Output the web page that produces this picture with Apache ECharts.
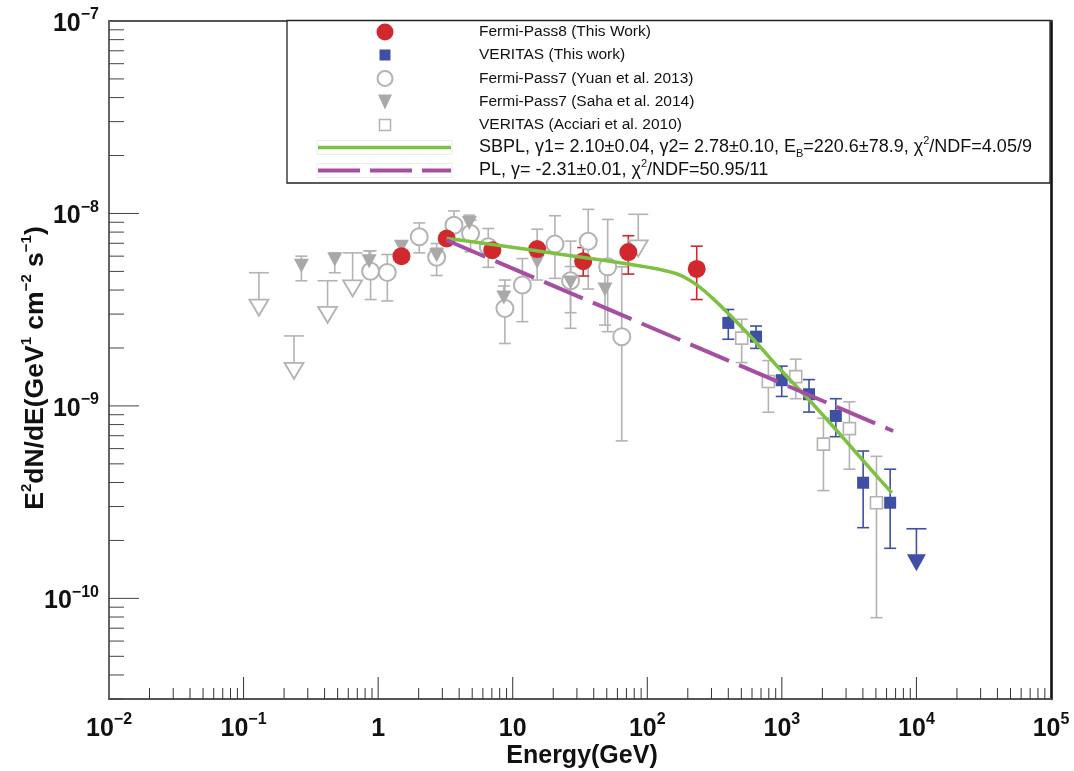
<!DOCTYPE html>
<html><head><meta charset="utf-8">
<script src="https://cdn.jsdelivr.net/npm/echarts@6/dist/echarts.min.js"></script>
<style>html,body{margin:0;padding:0;background:#fff}#chart{width:1074px;height:771px}</style>
</head><body><div id="chart"></div>
<script>
// ---------------- data ----------------
// Fermi-Pass8 (This Work): energy [GeV], E^2 dN/dE, lower, upper
const fermi8E  = [1.49, 3.23, 7.05, 15.2, 33.4, 72.3, 233];
const fermi8F  = [6.0e-9, 7.41e-9, 6.44e-9, 6.53e-9, 5.65e-9, 6.30e-9, 5.15e-9];
const fermi8Lo = [5.6e-9, 7.0e-9, 6.05e-9, 6.1e-9, 4.73e-9, 4.84e-9, 3.57e-9];
const fermi8Hi = [6.4e-9, 7.8e-9, 6.85e-9, 6.95e-9, 6.65e-9, 7.66e-9, 6.76e-9];

// VERITAS (This work)
const veritasE  = [400, 643, 998, 1592, 2518, 4018, 6380];
const veritasF  = [2.70e-9, 2.29e-9, 1.36e-9, 1.15e-9, 8.87e-10, 3.99e-10, 3.14e-10];
const veritasLo = [2.22e-9, 1.99e-9, 1.12e-9, 9.29e-10, 6.92e-10, 2.33e-10, 1.82e-10];
const veritasHi = [3.17e-9, 2.60e-9, 1.61e-9, 1.37e-9, 1.09e-9, 5.83e-10, 4.69e-10];
// VERITAS (This work) upper limit
const veritasUlE   = [10000];
const veritasUlF   = [1.53e-10];
const veritasUlTop = [2.30e-10];

// Fermi-Pass7 (Yuan et al. 2013)
const yuanE  = [0.879, 1.17, 2.02, 2.72, 3.66, 4.86, 6.58, 8.75, 11.8, 20.6, 26.9, 36.4, 50.8, 64.6];
const yuanF  = [5.01e-9, 4.94e-9, 7.57e-9, 5.92e-9, 8.69e-9, 7.87e-9, 6.71e-9, 3.21e-9, 4.25e-9, 6.93e-9, 4.47e-9, 7.17e-9, 5.28e-9, 2.29e-9];
const yuanLo = [3.57e-9, 3.51e-9, 6.24e-9, 4.76e-9, 7.4e-9, 6.32e-9, 5.25e-9, 2.11e-9, 2.74e-9, 4.60e-9, 2.53e-9, 4.05e-9, 2.43e-9, 6.58e-10];
const yuanHi = [6.39e-9, 6.12e-9, 8.93e-9, 6.98e-9, 1.03e-8, 9.23e-9, 8.35e-9, 4.51e-9, 5.83e-9, 9.73e-9, 7.18e-9, 1.05e-8, 9.31e-9, 5.28e-9];

// Fermi-Pass7 (Saha et al. 2014)
const sahaE  = [0.269, 0.476, 0.857, 1.49, 2.72, 4.76, 8.59, 15.2, 26.9, 48.5];
const sahaF  = [5.35e-9, 5.77e-9, 5.65e-9, 6.71e-9, 6.07e-9, 8.93e-9, 3.66e-9, 5.61e-9, 4.38e-9, 4.03e-9];
const sahaLo = [4.47e-9, 4.92e-9, 5.0e-9, 6.2e-9, 5.6e-9, 8.0e-9, 3.0e-9, 4.51e-9, 3.05e-9, 2.63e-9];
const sahaHi = [6.0e-9, 6.24e-9, 6.39e-9, 7.2e-9, 6.6e-9, 9.8e-9, 4.2e-9, 8.28e-9, 5.3e-9, 5.0e-9];

// Fermi-Pass7 upper limits (open triangles)
const ulE   = [0.130, 0.237, 0.421, 0.646, 85.7];
const ulF   = [3.24e-9, 1.52e-9, 2.97e-9, 4.08e-9, 6.58e-9];
const ulTop = [4.92e-9, 2.31e-9, 4.47e-9, 6.24e-9, 9.9e-9];

// VERITAS (Acciari et al. 2010)
const acciariE  = [503, 794, 1268, 2037, 3177, 5047];
const acciariF  = [2.25e-9, 1.34e-9, 1.42e-9, 6.33e-10, 7.62e-10, 3.14e-10];
const acciariLo = [1.68e-9, 9.27e-10, 1.09e-9, 3.63e-10, 4.69e-10, 7.94e-11];
const acciariHi = [2.82e-9, 1.72e-9, 1.75e-9, 8.63e-10, 1.05e-9, 5.47e-10];

// SBPL fit curve
const sbplE = [3.23, 5.70, 13.4, 31.6, 74.3, 124.3, 175.1, 234.2, 307.9, 412.0, 551.1, 688.5, 969.6, 1621, 2573, 4227, 6565];
const sbplF = [7.41e-9, 7.05e-9, 6.47e-9, 5.94e-9, 5.44e-9, 5.11e-9, 4.78e-9, 4.24e-9, 3.61e-9, 2.96e-9, 2.40e-9, 2.03e-9, 1.55e-9, 1.06e-9, 7.41e-10, 4.99e-10, 3.53e-10];
// PL fit line
const plE = [3.23, 6714];
const plF = [7.26e-9, 7.41e-10];

// axis ranges
const X_MIN = 0.01, X_MAX = 1e5, Y_MIN = 3e-11, Y_MAX = 1e-7;

// legend labels
const legendLabels = [
  'Fermi-Pass8 (This Work)',
  'VERITAS (This work)',
  'Fermi-Pass7 (Yuan et al. 2013)',
  'Fermi-Pass7 (Saha et al. 2014)',
  'VERITAS (Acciari et al. 2010)',
  '{w|SBPL, \u03b31= 2.10\u00b10.04, \u03b32= 2.78\u00b10.10, E}{sub|B}{w|=220.6\u00b178.9, \u03c7}{sup|2}{w|/NDF=4.05/9}',
  '{w|PL, \u03b3= -2.31\u00b10.01, \u03c7}{sup|2}{w|/NDF=50.95/11}'
];

// ---------------- styles ----------------
const RED = '#d1282e', BLUE = '#3e4fa5', GRAY = '#b3b3b3', GRAYF = '#a9a9a9';
const GREEN = '#7dc143', PURPLE = '#a54fa3';
const FONT = '"Liberation Sans", Arial, sans-serif';

function zip(a, b, c) { return a.map((v, i) => c ? [v, b[i], c[i]] : [v, b[i]]); }

// tick marks (minor 2..9, major at decades)
const tickData = [];
for (let k = -2; k < 5; k++) {
  for (let m = 1; m <= 9; m++) {
    if (m === 1 && k === -2) continue;
    tickData.push([m * Math.pow(10, k), Y_MIN, 0, m === 1 ? 22 : 11]);
  }
}
for (let k = -11; k < -7; k++) {
  for (let m = 1; m <= 9; m++) {
    const v = m * Math.pow(10, k);
    if (v < Y_MIN * 0.999) continue;
    tickData.push([X_MIN, v, 1, m === 1 ? 30 : 15]);
  }
}

function tickItem(params, api) {
  const which = api.value(2), len = api.value(3);
  if (which === 0) {
    const p = api.coord([api.value(0), Y_MIN]);
    return { type: 'line', shape: { x1: p[0], y1: p[1], x2: p[0], y2: p[1] - len }, style: { stroke: '#333', lineWidth: 1 } };
  }
  const p = api.coord([X_MIN, api.value(1)]);
  return { type: 'line', shape: { x1: p[0], y1: p[1], x2: p[0] + len, y2: p[1] }, style: { stroke: '#444', lineWidth: 1 } };
}

function errBar(color, cap, lw) {
  return function (params, api) {
    const x = api.value(0);
    const a = api.coord([x, api.value(1)]), b = api.coord([x, api.value(2)]);
    const st = { stroke: color, lineWidth: lw };
    return { type: 'group', children: [
      { type: 'line', shape: { x1: a[0], y1: a[1], x2: b[0], y2: b[1] }, style: st },
      { type: 'line', shape: { x1: a[0] - cap, y1: a[1], x2: a[0] + cap, y2: a[1] }, style: st },
      { type: 'line', shape: { x1: b[0] - cap, y1: b[1], x2: b[0] + cap, y2: b[1] }, style: st }
    ]};
  };
}
function ulBar(color, cap, lw, off) {
  return function (params, api) {
    const x = api.value(0);
    const a = api.coord([x, api.value(1)]), b = api.coord([x, api.value(2)]);
    const st = { stroke: color, lineWidth: lw };
    return { type: 'group', children: [
      { type: 'line', shape: { x1: a[0], y1: a[1] - off, x2: b[0], y2: b[1] }, style: st },
      { type: 'line', shape: { x1: b[0] - cap, y1: b[1], x2: b[0] + cap, y2: b[1] }, style: st }
    ]};
  };
}

function powLabel(v) {
  const lg = Math.log10(v), e = Math.round(lg);
  if (Math.abs(lg - e) > 1e-6) return '';
  if (e === 0) return '{b|1}';
  if (e === 1) return '{b|10}';
  return '{b|10}{s|' + (e < 0 ? '\u2212' + (-e) : e) + '}';
}
const labelRich = {
  b: { fontSize: 25, fontWeight: 'bold', fontFamily: FONT, color: '#111', lineHeight: 34, verticalAlign: 'middle' },
  s: { fontSize: 16, fontWeight: 'bold', fontFamily: FONT, color: '#111', lineHeight: 16, verticalAlign: 'top' }
};

const chart = echarts.init(document.getElementById('chart'), null, { renderer: 'canvas' });

// ---------------- legend (graphic) ----------------
const rows = [32, 55, 78.5, 101.5, 125, 147.5, 170.5];
const SX = 385, TX = 479;
const legendG = [
  { type: 'rect', shape: { x: 287, y: 20.5, width: 763, height: 162.5 }, style: { fill: '#fff', stroke: '#222', lineWidth: 1.3 }, z: 10 },
  { type: 'circle', shape: { cx: SX, cy: rows[0], r: 8.5 }, style: { fill: RED }, z: 11 },
  { type: 'rect', shape: { x: SX - 5.5, y: rows[1] - 5.5, width: 11, height: 11 }, style: { fill: BLUE }, z: 11 },
  { type: 'circle', shape: { cx: SX, cy: rows[2], r: 7.5 }, style: { fill: '#fff', stroke: GRAY, lineWidth: 2 }, z: 11 },
  { type: 'polygon', shape: { points: [[SX - 7, rows[3] - 7], [SX + 7, rows[3] - 7], [SX, rows[3] + 8]] }, style: { fill: GRAYF }, z: 11 },
  { type: 'rect', shape: { x: SX - 5.5, y: rows[4] - 5.5, width: 11, height: 11 }, style: { fill: '#fff', stroke: GRAY, lineWidth: 1.5 }, z: 11 },
  { type: 'rect', shape: { x: 317, y: rows[5] - 7, width: 135, height: 14 }, style: { fill: 'none', stroke: '#ececec', lineWidth: 1 }, z: 11 },
  { type: 'line', shape: { x1: 318, y1: rows[5], x2: 451, y2: rows[5] }, style: { stroke: GREEN, lineWidth: 3.5 }, z: 12 },
  { type: 'rect', shape: { x: 317, y: rows[6] - 7, width: 135, height: 14 }, style: { fill: 'none', stroke: '#ececec', lineWidth: 1 }, z: 11 },
  { type: 'line', shape: { x1: 318, y1: rows[6], x2: 451, y2: rows[6] }, style: { stroke: PURPLE, lineWidth: 4, lineDash: [42, 10] }, z: 12 }
];
legendLabels.forEach((t, i) => {
  legendG.push({ type: 'text', x: TX, y: rows[i], z: 12, style: {
    text: i < 5 ? '{t|' + t + '}' : t, align: 'left', verticalAlign: 'middle',
    rich: {
      t: { fontSize: 15.5, fontFamily: FONT, fill: '#111', color: '#111', lineHeight: 22, verticalAlign: 'middle' },
      w: { fontSize: 18, fontFamily: FONT, fill: '#111', color: '#111', lineHeight: 24, verticalAlign: 'middle' },
      sup: { fontSize: 11, fontFamily: FONT, fill: '#111', color: '#111', lineHeight: 11, verticalAlign: 'top' },
      sub: { fontSize: 11, fontFamily: FONT, fill: '#111', color: '#111', lineHeight: 11, verticalAlign: 'bottom' }
    }
  }});
});

// axis titles
legendG.push({ type: 'text', x: 582, y: 756, z: 12, style: {
  text: 'Energy(GeV)', align: 'center', verticalAlign: 'middle',
  fontSize: 25, fontWeight: 'bold', fontFamily: FONT, fill: '#111' } });
legendG.push({ type: 'text', x: 36, y: 368, rotation: Math.PI / 2, z: 12, style: {
  text: '{b|E}{s|2}{b|dN/dE(GeV}{s|1}{b| cm}{s|\u22122}{b| s}{s|\u22121}{b|)}', align: 'center', verticalAlign: 'middle',
  rich: {
    b: { fontSize: 26.5, fontWeight: 'bold', fontFamily: FONT, fill: '#111', color: '#111', lineHeight: 33, verticalAlign: 'middle' },
    s: { fontSize: 15, fontWeight: 'bold', fontFamily: FONT, fill: '#111', color: '#111', lineHeight: 15, verticalAlign: 'top' }
  } } });

const option = {
  animation: false,
  backgroundColor: '#fff',
  grid: { left: 109, right: 23, top: 21, bottom: 72, containLabel: false },
  xAxis: [
    { type: 'log', logBase: 10, min: X_MIN, max: X_MAX, interval: 1,
      axisLine: { show: true, onZero: false, lineStyle: { color: '#555', width: 1.8 } },
      axisTick: { show: false }, splitLine: { show: false }, minorTick: { show: false },
      axisLabel: { show: true, margin: 13, showMinLabel: true, showMaxLabel: true, hideOverlap: false,
                   formatter: powLabel, rich: labelRich } },
    { type: 'log', logBase: 10, min: X_MIN, max: X_MAX, position: 'top',
      axisLine: { show: true, onZero: false, lineStyle: { color: '#555', width: 1.8 } },
      axisTick: { show: false }, axisLabel: { show: false }, splitLine: { show: false } }
  ],
  yAxis: [
    { type: 'log', logBase: 10, min: Y_MIN, max: Y_MAX,
      axisLine: { show: true, onZero: false, lineStyle: { color: '#555', width: 1.8 } },
      axisTick: { show: false }, splitLine: { show: false }, minorTick: { show: false },
      axisLabel: { show: true, margin: 10, padding: [6, 0, 0, 0], showMinLabel: true, showMaxLabel: true, hideOverlap: false,
                   formatter: powLabel, rich: labelRich } },
    { type: 'log', logBase: 10, min: Y_MIN, max: Y_MAX, position: 'right',
      axisLine: { show: true, onZero: false, lineStyle: { color: '#111', width: 2.6 } },
      axisTick: { show: false }, axisLabel: { show: false }, splitLine: { show: false } }
  ],
  graphic: { elements: legendG },
  series: [
    // gray error bars
    { type: 'custom', renderItem: errBar(GRAY, 6, 1.6), data: zip(yuanE, yuanLo, yuanHi), encode: { x: 0, y: [1, 2] }, silent: true },
    { type: 'custom', renderItem: errBar(GRAY, 6, 1.6), data: zip(sahaE, sahaLo, sahaHi), encode: { x: 0, y: [1, 2] }, silent: true },
    { type: 'custom', renderItem: errBar(GRAY, 6, 1.6), data: zip(acciariE, acciariLo, acciariHi), encode: { x: 0, y: [1, 2] }, silent: true },
    { type: 'custom', renderItem: ulBar(GRAY, 10, 1.6, 8), data: zip(ulE, ulF, ulTop), encode: { x: 0, y: [1, 2] }, silent: true },
    // gray markers
    { name: 'Fermi-Pass7 (Yuan et al. 2013)', type: 'scatter', symbol: 'circle', symbolSize: 17,
      itemStyle: { color: '#fff', borderColor: GRAY, borderWidth: 2, opacity: 1 }, data: zip(yuanE, yuanF) },
    { name: 'Fermi-Pass7 (Saha et al. 2014)', type: 'scatter', symbol: 'triangle', symbolRotate: 180, symbolSize: [15, 14],
      itemStyle: { color: GRAYF, opacity: 1 }, data: zip(sahaE, sahaF) },
    { name: 'UL', type: 'scatter', symbol: 'triangle', symbolRotate: 180, symbolSize: [19, 16],
      itemStyle: { color: '#fff', borderColor: GRAY, borderWidth: 1.8, opacity: 1 }, data: zip(ulE, ulF) },
    { name: 'VERITAS (Acciari et al. 2010)', type: 'scatter', symbol: 'rect', symbolSize: 12,
      itemStyle: { color: '#fff', borderColor: GRAY, borderWidth: 1.6, opacity: 1 }, data: zip(acciariE, acciariF) },
    // colored error bars
    { type: 'custom', renderItem: errBar(RED, 6, 1.6), data: zip(fermi8E, fermi8Lo, fermi8Hi), encode: { x: 0, y: [1, 2] }, silent: true },
    { type: 'custom', renderItem: errBar(BLUE, 6, 1.6), data: zip(veritasE, veritasLo, veritasHi), encode: { x: 0, y: [1, 2] }, silent: true },
    { type: 'custom', renderItem: ulBar(BLUE, 10, 1.6, 8), data: zip(veritasUlE, veritasUlF, veritasUlTop), encode: { x: 0, y: [1, 2] }, silent: true },
    // colored markers
    { name: 'Fermi-Pass8 (This Work)', type: 'scatter', symbol: 'circle', symbolSize: 18,
      itemStyle: { color: RED, opacity: 1 }, data: zip(fermi8E, fermi8F) },
    { name: 'VERITAS (This work)', type: 'scatter', symbol: 'rect', symbolSize: 12,
      itemStyle: { color: BLUE, opacity: 1 }, data: zip(veritasE, veritasF) },
    { name: 'VERITAS UL', type: 'scatter', symbol: 'triangle', symbolRotate: 180, symbolSize: [19, 17],
      itemStyle: { color: BLUE, opacity: 1 }, data: zip(veritasUlE, veritasUlF) },
    // fit lines
    { name: 'SBPL', type: 'line', showSymbol: false, smooth: 0.3,
      lineStyle: { color: GREEN, width: 3.5 }, data: zip(sbplE, sbplF), z: 5 },
    { name: 'PL', type: 'line', showSymbol: false,
      lineStyle: { color: PURPLE, width: 4, type: [42, 11] }, data: zip(plE, plF), z: 5 },
    // axis ticks
    { type: 'custom', renderItem: tickItem, data: tickData, encode: { x: 0, y: 1 }, silent: true, clip: false, z: 6 }
  ]
};
chart.setOption(option);
</script>
</body></html>
